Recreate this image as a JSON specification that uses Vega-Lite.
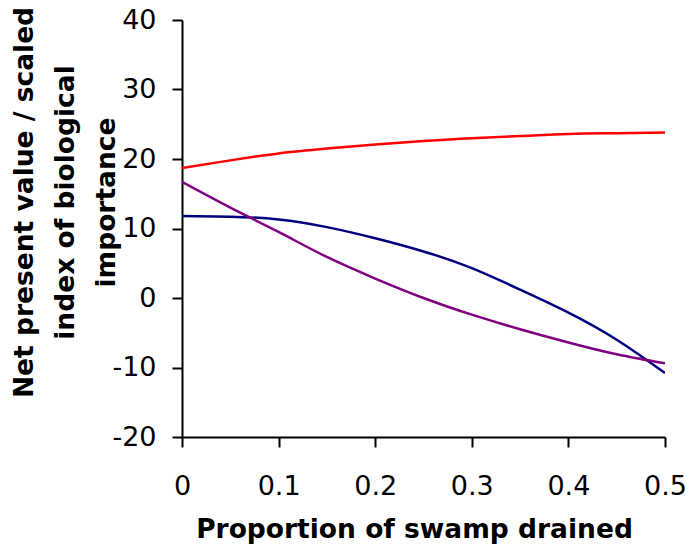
{
  "$schema": "https://vega.github.io/schema/vega-lite/v6.json",
  "width": 483,
  "height": 417,
  "autosize": {"type": "none"},
  "padding": {"left": 182, "top": 20, "right": 25, "bottom": 109},
  "background": "white",
  "config": {
    "view": {"stroke": null},
    "font": "DejaVu Sans"
  },
  "data": {
    "values": [
      {"x": 0, "y": 18.7, "s": "A"},
      {"x": 0.05, "y": 19.8, "s": "A"},
      {"x": 0.1, "y": 20.8, "s": "A"},
      {"x": 0.15, "y": 21.5, "s": "A"},
      {"x": 0.2, "y": 22.1, "s": "A"},
      {"x": 0.25, "y": 22.6, "s": "A"},
      {"x": 0.3, "y": 23.0, "s": "A"},
      {"x": 0.35, "y": 23.3, "s": "A"},
      {"x": 0.4, "y": 23.6, "s": "A"},
      {"x": 0.45, "y": 23.7, "s": "A"},
      {"x": 0.5, "y": 23.8, "s": "A"},
      {"x": 0, "y": 11.8, "s": "B"},
      {"x": 0.05, "y": 11.7, "s": "B"},
      {"x": 0.1, "y": 11.3, "s": "B"},
      {"x": 0.15, "y": 10.2, "s": "B"},
      {"x": 0.2, "y": 8.6, "s": "B"},
      {"x": 0.25, "y": 6.7, "s": "B"},
      {"x": 0.3, "y": 4.3, "s": "B"},
      {"x": 0.35, "y": 1.2, "s": "B"},
      {"x": 0.4, "y": -2.1, "s": "B"},
      {"x": 0.45, "y": -6.0, "s": "B"},
      {"x": 0.5, "y": -10.8, "s": "B"},
      {"x": 0, "y": 16.7, "s": "C"},
      {"x": 0.05, "y": 13.0, "s": "C"},
      {"x": 0.1, "y": 9.5, "s": "C"},
      {"x": 0.15, "y": 5.9, "s": "C"},
      {"x": 0.2, "y": 2.8, "s": "C"},
      {"x": 0.25, "y": 0.0, "s": "C"},
      {"x": 0.3, "y": -2.4, "s": "C"},
      {"x": 0.35, "y": -4.5, "s": "C"},
      {"x": 0.4, "y": -6.4, "s": "C"},
      {"x": 0.45, "y": -8.1, "s": "C"},
      {"x": 0.5, "y": -9.4, "s": "C"}
    ]
  },
  "mark": {"type": "line", "interpolate": "natural", "strokeWidth": 2.5, "clip": true},
  "encoding": {
    "x": {
      "field": "x", "type": "quantitative",
      "scale": {"domain": [0, 0.5], "nice": false, "zero": false},
      "axis": {
        "values": [0, 0.1, 0.2, 0.3, 0.4, 0.5],
        "labelExpr": "datum.value == 0 ? '0' : format(datum.value, '.1f')",
        "grid": false,
        "domainColor": "black", "domainWidth": 2,
        "tickColor": "black", "tickWidth": 2, "tickSize": 10,
        "labelFont": "DejaVu Sans", "labelFontSize": 27, "labelColor": "black",
        "labelPadding": 26, "labelFlush": false, "labelOverlap": false,
        "title": "Proportion of swamp drained",
        "titleFont": "DejaVu Sans", "titleFontSize": 26.5, "titleFontWeight": "bold",
        "titleColor": "black", "titleBaseline": "alphabetic", "titleX": 232, "titleY": 100
      }
    },
    "y": {
      "field": "y", "type": "quantitative",
      "scale": {"domain": [-20, 40], "nice": false, "zero": false},
      "axis": {
        "values": [-20, -10, 0, 10, 20, 30, 40],
        "labelExpr": "replace(datum.label, '−', '-')",
        "grid": false,
        "domainColor": "black", "domainWidth": 2,
        "tickColor": "black", "tickWidth": 2, "tickSize": 10,
        "labelFont": "DejaVu Sans", "labelFontSize": 27, "labelColor": "black",
        "labelPadding": 16, "labelFlush": false, "labelOverlap": false,
        "title": ["Net present value / scaled", "index of biological", "importance"],
        "titleFont": "DejaVu Sans", "titleFontSize": 26.5, "titleFontWeight": "bold",
        "titleColor": "black", "titleAngle": -90, "titleAlign": "center",
        "titleBaseline": "top", "titleLineHeight": 41,
        "titleX": -171, "titleY": 182
      }
    },
    "color": {
      "field": "s", "type": "nominal",
      "scale": {"domain": ["A", "B", "C"], "range": ["#FF0000", "#000080", "#800080"]},
      "legend": null
    }
  }
}
